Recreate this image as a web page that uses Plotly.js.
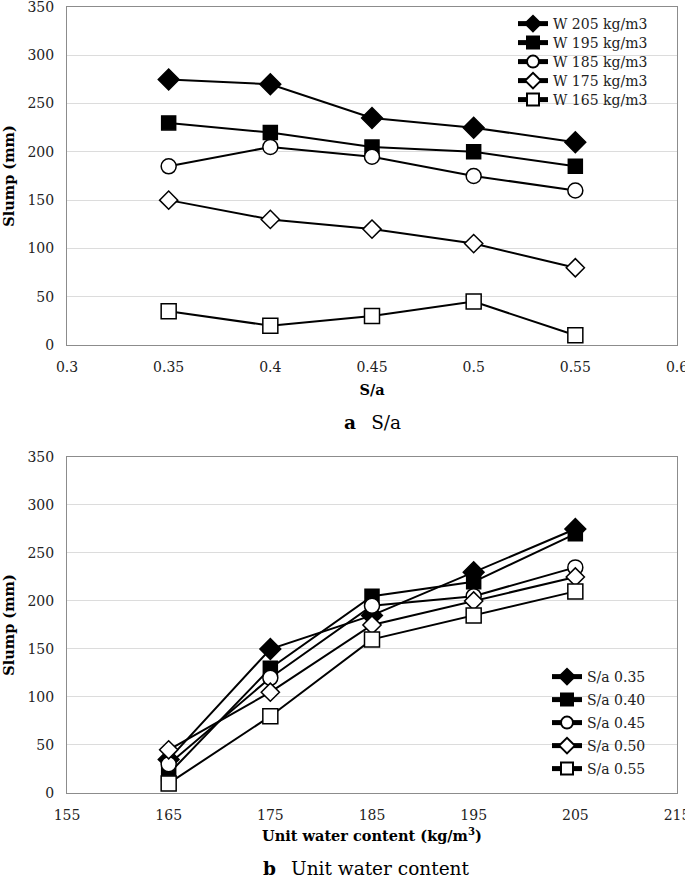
<!DOCTYPE html>
<html>
<head>
<meta charset="utf-8">
<script src="https://cdn.plot.ly/plotly-3.0.1.min.js"></script>
<style>
html,body{margin:0;padding:0;background:#fff;}
#chart{width:685px;height:883px;}
</style>
</head>
<body>
<div id="chart"></div>
<script>
// Panel a: slump vs S/a for each unit water content
const sa = [0.35, 0.40, 0.45, 0.50, 0.55];
const w205 = [275, 270, 235, 225, 210];
const w195 = [230, 220, 205, 200, 185];
const w185 = [185, 205, 195, 175, 160];
const w175 = [150, 130, 120, 105, 80];
const w165 = [35, 20, 30, 45, 10];
const namesA = ["W 205 kg/m3", "W 195 kg/m3", "W 185 kg/m3", "W 175 kg/m3", "W 165 kg/m3"];

// Panel b: slump vs unit water content for each S/a
const water = [165, 175, 185, 195, 205];
const sa035 = [35, 150, 185, 230, 275];
const sa040 = [20, 130, 205, 220, 270];
const sa045 = [30, 120, 195, 205, 235];
const sa050 = [45, 105, 175, 200, 225];
const sa055 = [10, 80, 160, 185, 210];
const namesB = ["S/a 0.35", "S/a 0.40", "S/a 0.45", "S/a 0.50", "S/a 0.55"];

const xTicksA = [0.3, 0.35, 0.4, 0.45, 0.5, 0.55, 0.6];
const xTicksB = [155, 165, 175, 185, 195, 205, 215];
const yTicks = [0, 50, 100, 150, 200, 250, 300, 350];

const styles = [
  {symbol: "diamond", size: 16, color: "#000"},
  {symbol: "square", size: 14, color: "#000"},
  {symbol: "circle", size: 15, color: "#fff"},
  {symbol: "diamond", size: 14, color: "#fff"},
  {symbol: "square", size: 15, color: "#fff"}
];

const FONT = "DejaVu Serif";
const traces = [];
const seriesA = [w205, w195, w185, w175, w165];
const seriesB = [sa035, sa040, sa045, sa050, sa055];

const plotTop = 7, plotBottom = 793, plotLeft = 67, plotRight = 677;
const plotH = plotBottom - plotTop, plotW = plotRight - plotLeft;
const py = p => (plotBottom - p) / plotH;
const px = p => (p - plotLeft) / plotW;

const legendRowsA = [24, 43, 62, 81, 100];
const legendRowsB = [677, 700, 723, 746, 769];

const layout = {
  width: 685, height: 883,
  margin: {l: 67, r: 8, t: 7, b: 90},
  paper_bgcolor: "#fff", plot_bgcolor: "#fff",
  font: {family: FONT, color: "#000"},
  showlegend: true
};

seriesA.forEach((ys, i) => {
  const lg = i === 0 ? "legend" : "legend" + (i + 1);
  traces.push({
    x: sa, y: ys, name: namesA[i], type: "scatter", mode: "lines+markers",
    xaxis: "x", yaxis: "y", legend: lg,
    line: {color: "#000", width: 2},
    marker: {symbol: styles[i].symbol, size: styles[i].size, color: styles[i].color,
             line: {color: "#000", width: 1.5}}
  });
  layout[lg] = {
    x: px(513), y: py(legendRowsA[i]), xanchor: "left", yanchor: "middle",
    bgcolor: "rgba(0,0,0,0)", borderwidth: 0, font: {family: FONT, size: 14, color: "#222"},
    itemwidth: 30, itemsizing: "constant"
  };
});
seriesB.forEach((ys, i) => {
  const lg = "legend" + (i + 6);
  traces.push({
    x: water, y: ys, name: namesB[i], type: "scatter", mode: "lines+markers",
    xaxis: "x2", yaxis: "y2", legend: lg,
    line: {color: "#000", width: 2},
    marker: {symbol: styles[i].symbol, size: styles[i].size, color: styles[i].color,
             line: {color: "#000", width: 1.5}}
  });
  layout[lg] = {
    x: px(547), y: py(legendRowsB[i]), xanchor: "left", yanchor: "middle",
    bgcolor: "rgba(0,0,0,0)", borderwidth: 0, font: {family: FONT, size: 14, color: "#222"},
    itemwidth: 30, itemsizing: "constant"
  };
});

const axisCommon = {
  showline: true, mirror: true, linecolor: "#8c8c8c", linewidth: 1,
  zeroline: false, ticks: "", tickfont: {family: FONT, size: 14, color: "#222"},
  ticklabelstandoff: 9, ticklabeloverflow: "allow"
};

Object.assign(layout, {
  xaxis: Object.assign({}, axisCommon, {
    domain: [0, 1], anchor: "y", range: [0.3, 0.6], tickvals: xTicksA,
    ticktext: xTicksA.map(String), showgrid: false,
    title: {text: "<b>S/a</b>", font: {family: FONT, size: 14.5}, standoff: 11}
  }),
  yaxis: Object.assign({}, axisCommon, {
    domain: [0.57, 1], anchor: "x", range: [0, 350], tickvals: yTicks,
    showgrid: true, gridcolor: "#dcdcdc", gridwidth: 1,
    title: {text: "<b>Slump (mm)</b>", font: {family: FONT, size: 14.5}, standoff: 9}
  }),
  xaxis2: Object.assign({}, axisCommon, {
    domain: [0, 1], anchor: "y2", range: [155, 215], tickvals: xTicksB,
    ticktext: xTicksB.map(String), showgrid: false,
    title: {text: "<b>Unit water content (kg/m<sup>3</sup>)</b>", font: {family: FONT, size: 14.5}, standoff: 9}
  }),
  yaxis2: Object.assign({}, axisCommon, {
    domain: [0, 0.4275], anchor: "x2", range: [0, 350], tickvals: yTicks,
    showgrid: true, gridcolor: "#dcdcdc", gridwidth: 1,
    title: {text: "<b>Slump (mm)</b>", font: {family: FONT, size: 14.5}, standoff: 9}
  }),
  shapes: [
    {type: "rect", xref: "paper", yref: "paper", layer: "between",
     x0: px(503), x1: px(667), y0: py(110), y1: py(12),
     fillcolor: "#fff", line: {width: 0}},
    {type: "rect", xref: "paper", yref: "paper", layer: "between",
     x0: px(546), x1: px(655), y0: py(781), y1: py(663),
     fillcolor: "#fff", line: {width: 0}}
  ],
  annotations: [
    {text: "<b>a</b>\u2002 S/a", xref: "paper", yref: "paper", x: 0.5, y: py(422),
     xanchor: "center", yanchor: "middle", showarrow: false,
     font: {family: FONT, size: 18.5, color: "#000"}},
    {text: "<b>b</b>\u2002 Unit water content", xref: "paper", yref: "paper", x: 0.49, y: py(868),
     xanchor: "center", yanchor: "middle", showarrow: false,
     font: {family: FONT, size: 18.5, color: "#000"}}
  ]
});

Plotly.newPlot("chart", traces, layout, {displayModeBar: false, staticPlot: true});
</script>
</body>
</html>
